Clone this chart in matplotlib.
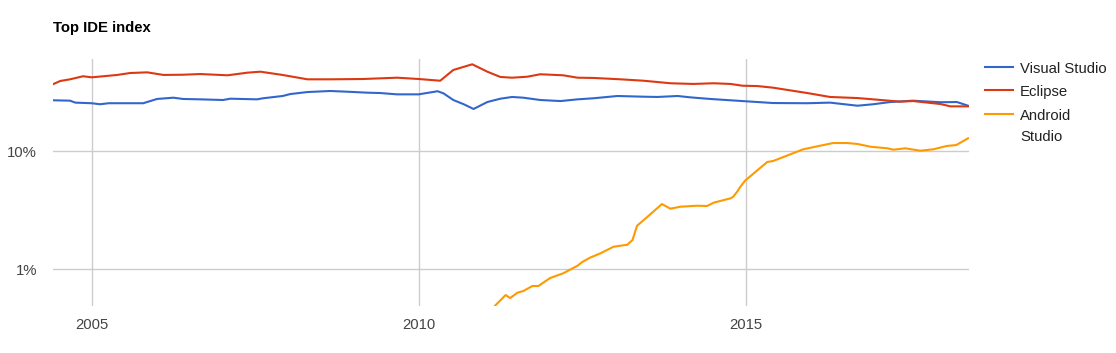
import matplotlib
matplotlib.use("Agg")
import matplotlib.pyplot as plt
from matplotlib.lines import Line2D
from matplotlib.ticker import FixedLocator, NullLocator

plt.rcParams['font.family'] = ['Liberation Sans', 'DejaVu Sans']

# ---- data (percent share) ----
vs_years = [2004.41, 2004.67, 2004.75, 2005.00, 2005.13, 2005.26, 2005.79, 2006.00, 2006.25,
            2006.40, 2006.66, 2007.01, 2007.12, 2007.53, 2007.62, 2007.92, 2008.04, 2008.30,
            2008.65, 2008.91, 2009.22, 2009.41, 2009.67, 2010.00, 2010.29, 2010.38, 2010.53,
            2010.69, 2010.84, 2011.05, 2011.25, 2011.43, 2011.60, 2011.86, 2012.17, 2012.43,
            2012.67, 2013.04, 2013.44, 2013.65, 2013.96, 2014.15, 2014.46, 2014.95, 2015.42,
            2015.94, 2016.29, 2016.71, 2016.95, 2017.21, 2017.56, 2017.98, 2018.23, 2018.40]
vs_values = [26.9, 26.7, 25.7, 25.4, 24.9, 25.4, 25.4, 27.6, 28.3,
             27.6, 27.4, 27.05, 27.75, 27.4, 27.97, 29.25, 30.4, 31.6,
             32.25, 31.8, 31.2, 31.0, 30.2, 30.2, 32.1, 30.8, 27.05,
             24.9, 22.7, 26.0, 27.75, 28.7, 28.3, 27.05, 26.5, 27.4,
             27.97, 29.25, 28.85, 28.7, 29.25, 28.5, 27.6, 26.5, 25.5,
             25.4, 25.7, 24.2, 24.9, 26.0, 26.7, 25.9, 26.0, 24.2]

ec_years = [2004.41, 2004.52, 2004.67, 2004.87, 2005.00, 2005.18, 2005.39, 2005.59, 2005.85,
            2006.10, 2006.40, 2006.66, 2007.08, 2007.38, 2007.58, 2007.92, 2008.30, 2008.65,
            2009.15, 2009.67, 2010.00, 2010.33, 2010.53, 2010.82, 2011.05, 2011.25, 2011.43,
            2011.66, 2011.86, 2012.21, 2012.43, 2012.67, 2013.09, 2013.44, 2013.85, 2014.20,
            2014.51, 2014.77, 2014.95, 2015.18, 2015.42, 2015.94, 2016.29, 2016.71, 2016.95,
            2017.36, 2017.56, 2017.98, 2018.13, 2018.40]
ec_values = [36.8, 39.2, 40.5, 43.0, 42.1, 43.0, 44.1, 45.8, 46.4,
             44.1, 44.3, 44.9, 43.8, 46.1, 47.0, 44.1, 40.5, 40.5,
             40.75, 41.8, 40.75, 39.4, 48.6, 54.3, 47.0, 42.4, 41.8,
             42.6, 44.7, 43.8, 41.8, 41.6, 40.5, 39.4, 37.5, 37.0,
             37.5, 37.0, 35.75, 35.5, 34.4, 31.0, 28.7, 28.1, 27.4,
             26.2, 26.5, 25.0, 23.9, 23.9]

as_years = [2011.17, 2011.33, 2011.40, 2011.51, 2011.60, 2011.74, 2011.83, 2012.01, 2012.21,
            2012.43, 2012.50, 2012.62, 2012.78, 2012.98, 2013.19, 2013.27, 2013.34, 2013.50,
            2013.72, 2013.85, 2014.00, 2014.26, 2014.41, 2014.51, 2014.77, 2014.81, 2014.87,
            2014.92, 2014.99, 2015.33, 2015.42, 2015.63, 2015.88, 2016.14, 2016.34, 2016.55,
            2016.71, 2016.91, 2017.17, 2017.26, 2017.44, 2017.67, 2017.87, 2018.07, 2018.22,
            2018.40]
as_values = [0.49, 0.602, 0.568, 0.630, 0.651, 0.718, 0.718, 0.839, 0.920,
             1.067, 1.146, 1.247, 1.359, 1.545, 1.607, 1.761, 2.328, 2.775,
             3.554, 3.243, 3.373, 3.440, 3.420, 3.647, 3.974, 4.101, 4.520,
             4.984, 5.603, 8.07, 8.23, 9.13, 10.34, 11.09, 11.69, 11.69,
             11.47, 10.87, 10.54, 10.26, 10.54, 10.06, 10.34, 11.02, 11.24,
             12.81]

series_names = ["Visual Studio", "Eclipse", "Android\nStudio"]
series_colors = ["#3366cc", "#dc3912", "#ff9900"]
x_ticks = [2005, 2010, 2015]
x_tick_labels = ["2005", "2010", "2015"]
y_ticks = [1, 10]
y_tick_labels = ["1%", "10%"]

W, H = 1116, 353
FS = 10.7
fig = plt.figure(figsize=(W / 100, H / 100), dpi=100)
ax = fig.add_axes([53 / W, 1 - 305.7 / H, (968.7 - 53) / W, (305.7 - 59) / H])

ax.set_yscale('log')
ax.set_xlim(2004.41, 2018.41)
ax.set_ylim(0.489, 60.2)

for xs, ys, c in zip([vs_years, ec_years, as_years],
                     [vs_values, ec_values, as_values], series_colors):
    ax.plot(xs, ys, color=c, lw=1.5, solid_joinstyle='round', zorder=3)

ax.yaxis.set_major_locator(FixedLocator(y_ticks))
ax.yaxis.set_minor_locator(NullLocator())
ax.set_yticklabels(y_tick_labels)
ax.set_xticks(x_ticks)
ax.set_xticklabels(x_tick_labels)
ax.grid(True, color="#cccccc", lw=1)
ax.set_axisbelow(True)
for s in ax.spines.values():
    s.set_visible(False)
ax.tick_params(length=0, labelsize=FS, colors="#444444")
ax.tick_params(axis='y', pad=11.5)
ax.tick_params(axis='x', pad=9)

fig.text(53 / W, 1 - 28 / H, "Top IDE index", fontsize=FS, fontweight='bold',
         color="#000000", va='center', ha='left')

# legend drawn manually (first line of each label aligned with its swatch)
leg_rows_y = [67, 90, 114]
for name, c, yy in zip(series_names, series_colors, leg_rows_y):
    fig.add_artist(Line2D([985 / W, 1013 / W], [1 - yy / H, 1 - yy / H],
                          transform=fig.transFigure, color=c, lw=1.5))
    fig.text(1020 / W, 1 - (yy - 5) / H, name, fontsize=FS, color="#222222",
             ha='left', va='top', linespacing=1.62)

fig.savefig("out.png", dpi=100)
